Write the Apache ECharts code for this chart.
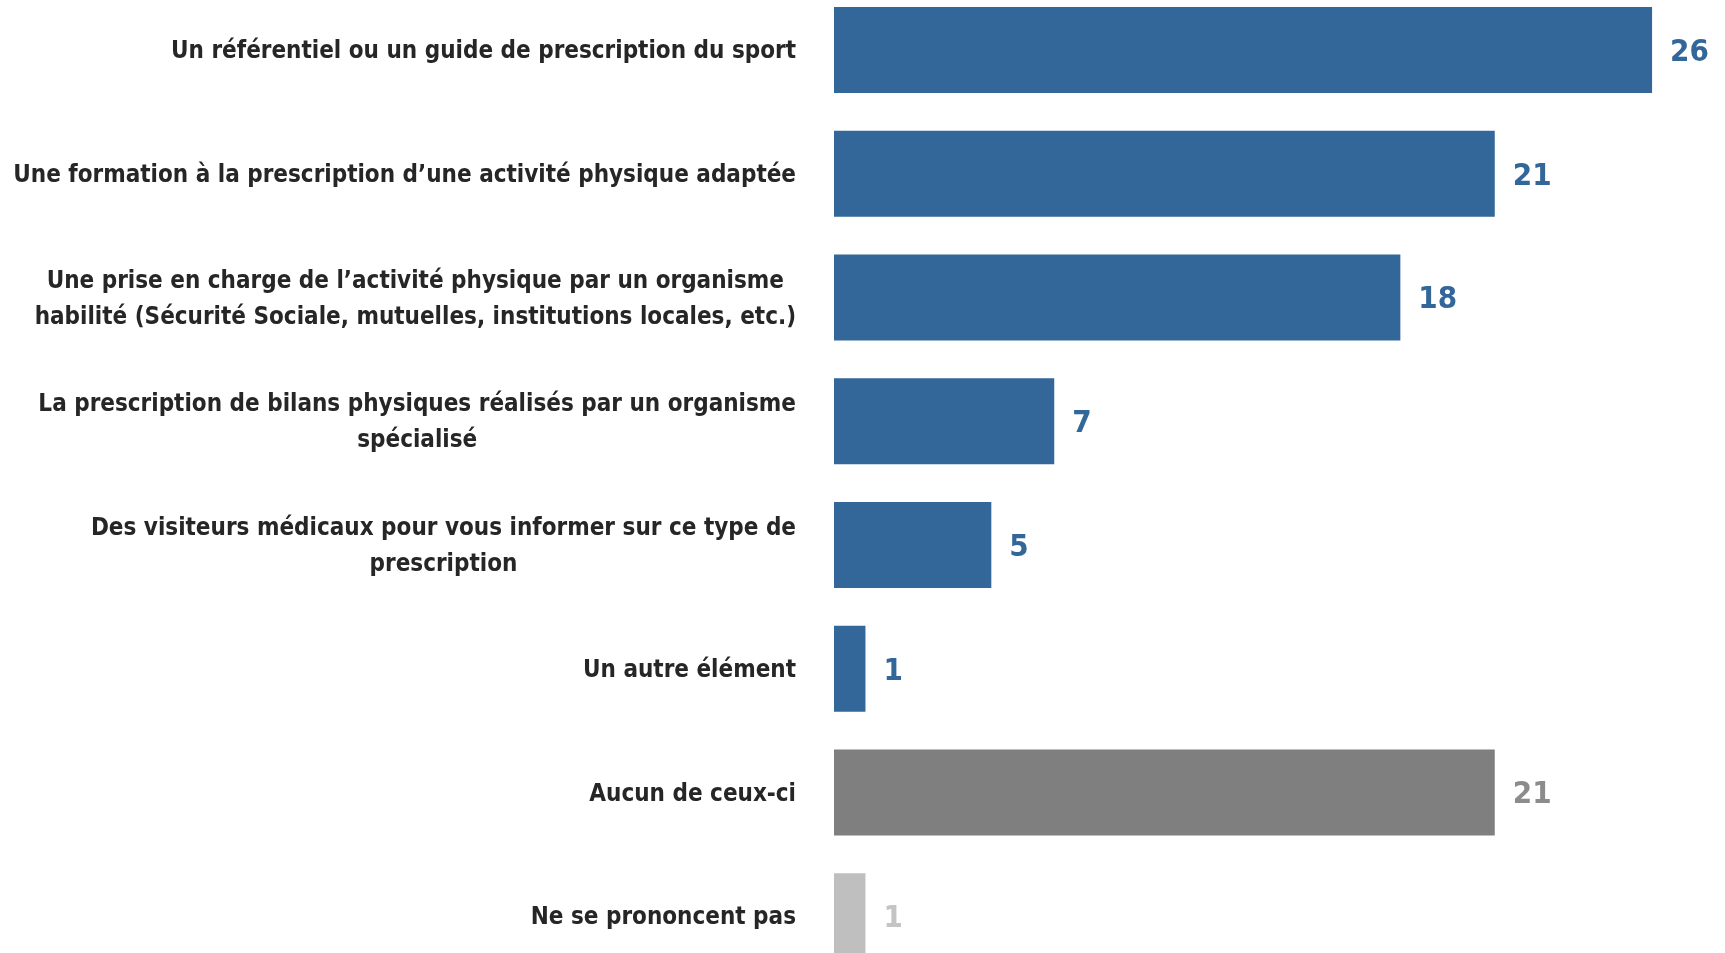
<!DOCTYPE html>
<html>
<head>
<meta charset="utf-8">
<script src="https://cdn.jsdelivr.net/npm/echarts@6/dist/echarts.min.js"></script>
<style>
  html, body { margin: 0; padding: 0; background: #fff; }
  #chart { width: 1725px; height: 953px; }
</style>
</head>
<body>
<div id="chart"></div>
<script>
// données du graphique
var categories = [
    'Un référentiel ou un guide de prescription du sport',
    'Une formation à la prescription d’une activité physique adaptée',
    'Une prise en charge de l’activité physique par un organisme\nhabilité (Sécurité Sociale, mutuelles, institutions locales, etc.)',
    'La prescription de bilans physiques réalisés par un organisme\nspécialisé',
    'Des visiteurs médicaux pour vous informer sur ce type de\nprescription',
    'Un autre élément',
    'Aucun de ceux-ci',
    'Ne se prononcent pas'
];
var values = [26, 21, 18, 7, 5, 1, 21, 1];
var groups = ['item', 'item', 'item', 'item', 'item', 'item', 'aucun', 'nsp'];

// couleurs par groupe
var barColor = { item: '#336699', aucun: '#7f7f7f', nsp: '#bfbfbf' };
var labelColor = { item: '#336699', aucun: '#8c8c8c', nsp: '#c4c4c4' };

var font = '"DejaVu Sans Condensed", "Liberation Sans Narrow", sans-serif';

var chart = echarts.init(document.getElementById('chart'));

var seriesData = values.map(function (v, i) {
    return {
        value: v,
        itemStyle: { color: barColor[groups[i]] },
        label: { color: labelColor[groups[i]] }
    };
});

var option = {
    animation: false,
    grid: { left: 834, right: 10, top: -12, height: 990, outerBoundsMode: 'none', containLabel: false },
    xAxis: {
        type: 'value',
        min: 0,
        max: 28,
        show: false
    },
    yAxis: {
        type: 'category',
        inverse: true,
        data: categories,
        axisLine: { show: false },
        axisTick: { show: false },
        axisLabel: {
            margin: 38,
            align: 'right',
            padding: [4, 0, 0, 0],
            fontFamily: font,
            fontWeight: 'bold',
            fontSize: 24,
            lineHeight: 36,
            color: '#262626',
            formatter: function (txt) {
                return txt.split('\n').map(function (l) { return '{c|' + l + '}'; }).join('\n');
            },
            rich: {
                c: {
                    align: 'center',
                    fontFamily: font,
                    fontWeight: 'bold',
                    fontSize: 24,
                    lineHeight: 36,
                    color: '#262626'
                }
            }
        }
    },
    series: [{
        type: 'bar',
        data: seriesData,
        barWidth: 86,
        label: {
            show: true,
            position: 'right',
            distance: 18,
            offset: [0, 3],
            fontFamily: font,
            fontWeight: 'bold',
            fontSize: 31
        }
    }]
};

chart.setOption(option);
</script>
</body>
</html>
